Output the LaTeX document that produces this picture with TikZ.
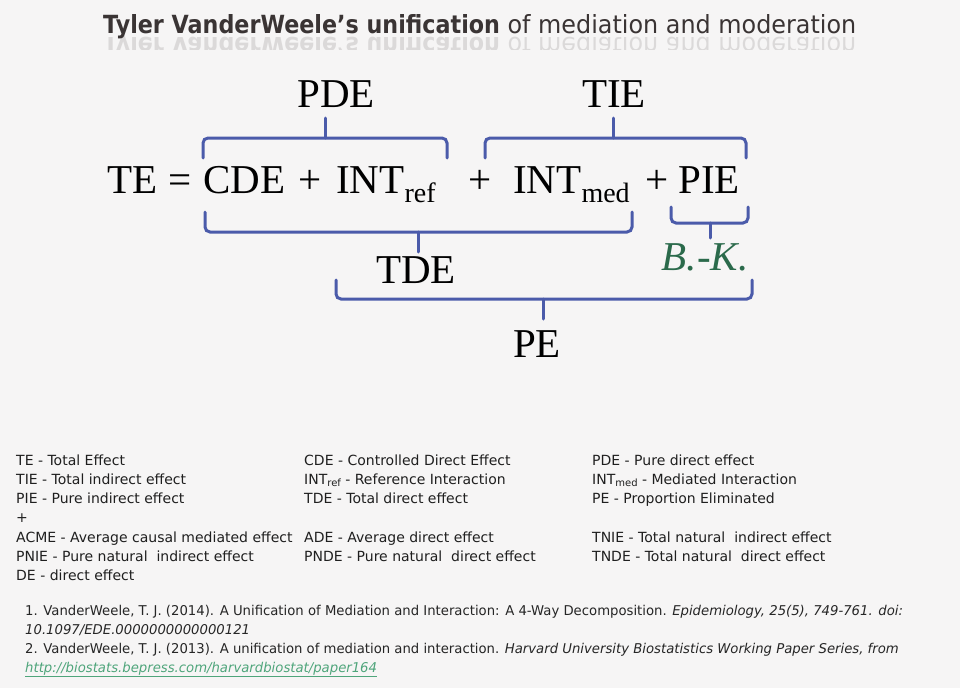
\documentclass[tikz,border=0pt]{standalone}
\usepackage{fontspec}
\setmainfont{Liberation Serif}
\newfontfamily\titlefont[FakeStretch=0.955, BoldFeatures={FakeStretch=0.89}]{DejaVu Sans}
\newfontfamily\legendfont{DejaVu Sans}
\newfontfamily\citefont[FakeStretch=0.98]{DejaVu Sans}
\usetikzlibrary{positioning}
\definecolor{bgcol}{HTML}{F6F5F5}
\definecolor{braceblue}{HTML}{4B5BAA}
\definecolor{bkgreen}{HTML}{2B6A4B}
\definecolor{titlegray}{HTML}{3A3434}
\definecolor{linkgreen}{HTML}{4FA57B}
\tikzset{
  curly/.style={draw=braceblue, line width=3pt, rounded corners=5pt, line cap=round},
  eqn/.style={font=\fontsize{41}{45}\selectfont, inner sep=0pt, anchor=base west},
  lbl/.style={font=\fontsize{41}{45}\selectfont, inner sep=0pt, anchor=base},
  titletext/.style={font=\titlefont\fontsize{25}{30}\selectfont, text=titlegray, inner sep=0pt, anchor=base west},
  legend/.style={font=\legendfont\fontsize{14}{17}\selectfont, text=black!88, inner sep=0pt, anchor=base west},
  cite/.style={font=\citefont\fontsize{13.5}{16}\selectfont, text=black!85, inner sep=0pt, anchor=base west}
}

\begin{document}
\begin{tikzpicture}[x=1pt, y=-1pt]
  \fill[bgcol] (0,0) rectangle (960,688);

  % title with its reflection
  \node[titletext] (title) at (103,33) {\textbf{Tyler VanderWeele’s unification} of mediation and moderation};
  \begin{scope}
    \clip (0,35) rectangle (960,49);
    \node[titletext, yscale=-1, opacity=.14] (titlerefl) at (103,37) {\textbf{Tyler VanderWeele’s unification} of mediation and moderation};
  \end{scope}

  % the decomposition
  \node[eqn] (te) at (107,193) {TE};
  \node[eqn] (eq) at (168,193) {=};
  \node[eqn] (cde) at (203,193) {CDE};
  \node[eqn] (plusa) at (298,193) {+};
  \node[eqn] (intref) at (336,193) {INT\raisebox{-9pt}{\fontsize{28}{30}\selectfont ref}};
  \node[eqn] (plusb) at (468,193) {+};
  \node[eqn] (intmed) at (513,193) {INT\raisebox{-9pt}{\fontsize{28}{30}\selectfont med}};
  \node[eqn] (plusc) at (645,193) {+};
  \node[eqn] (pie) at (678,193) {PIE};

  % braces above
  \draw[curly] (203,158) -- (203,138) -- (447,138) -- (447,158);
  \draw[curly] (325,138) -- (325,118);
  \draw[curly] (485,158) -- (485,138) -- (746,138) -- (746,158);
  \draw[curly] (613,138) -- (613,118);
  \node[lbl] (pde) at (336,107) {PDE};
  \node[lbl] (tie) at (614,107) {TIE};

  % braces below
  \draw[curly] (205,212) -- (205,232) -- (632,232) -- (632,212);
  \draw[curly] (418,232) -- (418,252);
  \draw[curly] (671,207) -- (671,223) -- (748,223) -- (748,207);
  \draw[curly] (710,223) -- (710,238);
  \draw[curly] (336,280) -- (336,299) -- (752,299) -- (752,280);
  \draw[curly] (543,299) -- (543,319);
  \node[lbl] (tde) at (416,283) {TDE};
  \node[lbl, text=bkgreen, font=\fontsize{41}{45}\selectfont\itshape] (bk) at (705,270) {B.-K.};
  \node[lbl] (pe) at (537,357) {PE};

  % abbreviations
  \node[legend] (l1) at (16,465) {TE - Total Effect};
  \node[legend] (l2) at (16,484) {TIE - Total indirect effect};
  \node[legend] (l3) at (16,503) {PIE - Pure indirect effect};
  \node[legend] (l4) at (16,522) {+};
  \node[legend] (l5) at (16,542) {ACME - Average causal mediated effect};
  \node[legend] (l6) at (16,561) {PNIE - Pure natural\ \ indirect effect};
  \node[legend] (l7) at (16,580) {DE - direct effect};
  \node[legend] (m1) at (304,465) {CDE - Controlled Direct Effect};
  \node[legend] (m2) at (304,484) {INT\raisebox{-2.5pt}{\fontsize{10}{12}\selectfont ref} - Reference Interaction};
  \node[legend] (m3) at (304,503) {TDE - Total direct effect};
  \node[legend] (m5) at (304,542) {ADE - Average direct effect};
  \node[legend] (m6) at (304,561) {PNDE - Pure natural\ \ direct effect};
  \node[legend] (r1) at (592,465) {PDE - Pure direct effect};
  \node[legend] (r2) at (592,484) {INT\raisebox{-2.5pt}{\fontsize{10}{12}\selectfont med} - Mediated Interaction};
  \node[legend] (r3) at (592,503) {PE - Proportion Eliminated};
  \node[legend] (r5) at (592,542) {TNIE - Total natural\ \ indirect effect};
  \node[legend] (r6) at (592,561) {TNDE - Total natural\ \ direct effect};

  % references
  \node[cite] (c1) at (25,615) {1. VanderWeele, T. J. (2014). A Unification of Mediation and Interaction: A 4-Way Decomposition. \textit{Epidemiology, 25(5), 749-761. doi:}};
  \node[cite] (c2) at (25,634) {\textit{10.1097/EDE.0000000000000121}};
  \node[cite] (c3) at (25,653) {2. VanderWeele, T. J. (2013). A unification of mediation and interaction. \textit{Harvard University Biostatistics Working Paper Series, from}};
  \node[cite, text=linkgreen] (c4) at (25,672) {\underline{\textit{http://biostats.bepress.com/harvardbiostat/paper164}}};
\end{tikzpicture}
\end{document}
